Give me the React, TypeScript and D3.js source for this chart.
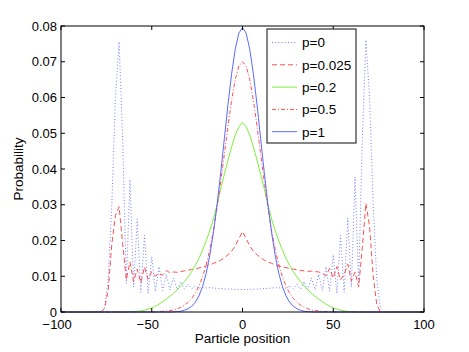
import React from 'react';
import * as d3 from 'd3';

const width = 469;
const height = 352;
const margin = { top: 26, right: 45, bottom: 40, left: 61 };
const font = '"Liberation Sans", Arial, Helvetica, sans-serif';

// particle positions (even sites only), zero outside +-80
const positions = [-100, ...d3.range(-80, 81, 2), 100];

const xTicks = [-100, -50, 0, 50, 100];
const yTicks = [0, 0.01, 0.02, 0.03, 0.04, 0.05, 0.06, 0.07, 0.08];

// rows: -100 | -80..-62 | -60..-42 | -40..-22 | -20..-2 | 0 | 2..20 | 22..40 | 42..60 | 62..80 | 100
const p0 = [
  0,
  0, 0, 0.0012, 0.009, 0.03, 0.06, 0.0756, 0.048, 0.008, 0.037,
  0.007, 0.026, 0.0055, 0.0215, 0.0052, 0.0155, 0.0058, 0.0127, 0.006, 0.0105,
  0.0062, 0.0095, 0.0063, 0.0085, 0.0064, 0.0078, 0.0065, 0.0073, 0.0066, 0.007,
  0.0067, 0.0068, 0.0067, 0.0066, 0.0066, 0.0065, 0.0064, 0.0064, 0.0063, 0.0063,
  0.0063,
  0.0063, 0.0063, 0.0064, 0.0064, 0.0065, 0.0066, 0.0066, 0.0067, 0.0068, 0.0067,
  0.007, 0.0066, 0.0073, 0.0065, 0.0078, 0.0064, 0.0085, 0.0063, 0.0095, 0.0062,
  0.0105, 0.006, 0.0127, 0.0058, 0.016, 0.0052, 0.0215, 0.0055, 0.0263, 0.007,
  0.0378, 0.008, 0.048, 0.0761, 0.06, 0.03, 0.009, 0.0012, 0, 0,
  0,
];

const p0025 = [
  0,
  0, 0, 0.001, 0.006, 0.019, 0.027, 0.0295, 0.019, 0.009, 0.014,
  0.0085, 0.012, 0.0082, 0.0126, 0.0092, 0.0113, 0.01, 0.0108, 0.0103, 0.0116,
  0.011, 0.0112, 0.0111, 0.0113, 0.0115, 0.0117, 0.0119, 0.0121, 0.0123, 0.0126,
  0.0129, 0.0132, 0.0136, 0.014, 0.0145, 0.0152, 0.016, 0.017, 0.0185, 0.0205,
  0.0225,
  0.0205, 0.0185, 0.017, 0.016, 0.0152, 0.0145, 0.014, 0.0136, 0.0132, 0.0129,
  0.0126, 0.0124, 0.0122, 0.012, 0.0118, 0.0116, 0.0115, 0.0114, 0.0114, 0.0113,
  0.0112, 0.0108, 0.0101, 0.0122, 0.0095, 0.0127, 0.009, 0.0105, 0.0134, 0.0087,
  0.0112, 0.007, 0.018, 0.0304, 0.024, 0.01, 0.002, 0, 0, 0,
  0,
];

const p02 = [
  0,
  0, 0, 0, 0, 0, 0, 0, 0, 0, 0.00005,
  0.0001, 0.0002, 0.0003, 0.0005, 0.0008, 0.0011, 0.0016, 0.0022, 0.0029, 0.0036,
  0.0044, 0.0052, 0.0062, 0.0073, 0.0085, 0.0098, 0.0113, 0.013, 0.015, 0.0173,
  0.0199, 0.0228, 0.026, 0.03, 0.0345, 0.0385, 0.0425, 0.0462, 0.0495, 0.0518,
  0.053,
  0.0518, 0.0495, 0.0462, 0.0425, 0.0385, 0.0345, 0.03, 0.026, 0.0228, 0.0199,
  0.0173, 0.015, 0.013, 0.0113, 0.0098, 0.0085, 0.0073, 0.0062, 0.0052, 0.0044,
  0.0036, 0.0029, 0.0022, 0.0016, 0.0011, 0.0008, 0.0005, 0.0003, 0.0002, 0.0001,
  0.00005, 0, 0, 0, 0, 0, 0, 0, 0, 0,
  0,
];

const p05 = [
  0,
  0, 0, 0, 0, 0, 0, 0, 0, 0, 0,
  0, 0, 0, 0, 0, 0, 0.00005, 0.0001, 0.0002, 0.0003,
  0.0004, 0.0006, 0.0009, 0.0013, 0.0019, 0.0027, 0.0038, 0.0052, 0.0072, 0.0098,
  0.0132, 0.0175, 0.0228, 0.0292, 0.0364, 0.0442, 0.052, 0.0592, 0.065, 0.0688,
  0.07,
  0.0688, 0.065, 0.0592, 0.052, 0.0442, 0.0364, 0.0292, 0.0228, 0.0175, 0.0132,
  0.0098, 0.0072, 0.0052, 0.0038, 0.0027, 0.0019, 0.0013, 0.0009, 0.0006, 0.0004,
  0.0003, 0.0002, 0.0001, 0.00005, 0, 0, 0, 0, 0, 0,
  0, 0, 0, 0, 0, 0, 0, 0, 0, 0,
  0,
];

const p1 = [
  0,
  0, 0, 0, 0, 0, 0, 0, 0, 0, 0,
  0, 0, 0, 0, 0, 0, 0, 0, 0, 0,
  0, 0.00005, 0.0001, 0.0002, 0.0005, 0.0009, 0.0016, 0.0027, 0.0045, 0.0071,
  0.0108, 0.0159, 0.0223, 0.0301, 0.039, 0.0485, 0.058, 0.0666, 0.0735, 0.078,
  0.0796,
  0.078, 0.0735, 0.0666, 0.058, 0.0485, 0.039, 0.0301, 0.0223, 0.0159, 0.0108,
  0.0071, 0.0045, 0.0027, 0.0016, 0.0009, 0.0005, 0.0002, 0.0001, 0.00005, 0,
  0, 0, 0, 0, 0, 0, 0, 0, 0, 0,
  0, 0, 0, 0, 0, 0, 0, 0, 0, 0,
  0,
];

const seriesNames = ['p=0', 'p=0.025', 'p=0.2', 'p=0.5', 'p=1'];
const seriesValues = [p0, p0025, p02, p05, p1];
const seriesColors = ['#6470ff', '#ff4f4f', '#7eef3c', '#ff4f4f', '#5c6aff'];
const seriesDash = ['1,2.2', '5,3', 'none', '4,2,1,2', 'none'];
const seriesWidth = [0.9, 1, 1, 1, 1];

const App = () => {
  const x = d3.scaleLinear().domain([-100, 100]).range([margin.left, width - margin.right]);
  const y = d3.scaleLinear().domain([0, 0.08]).range([height - margin.bottom, margin.top]);
  const [x0, x1] = x.range();
  const [y0, y1] = y.range();
  const tick = 4;

  const line = d3.line<number>()
    .x((_, i) => x(positions[i]))
    .y(d => y(d));

  //legend layout
  const lg = { x: 267, y: 29, w: 89, h: 114, row: 22.3 };

  return (
    <svg width={width} height={height} style={{ position: 'absolute', left: 0, top: 0, background: '#fff' }}
      fontFamily={font}>
      <rect x={0} y={0} width={width} height={height} fill="#fff" />
      {seriesValues.map((vals, i) => (
        <path key={seriesNames[i]} d={line(vals) || ''} fill="none" stroke={seriesColors[i]}
          strokeWidth={seriesWidth[i]} strokeDasharray={seriesDash[i]} />
      ))}

      {/* box and inward ticks */}
      <rect x={x0} y={y1} width={x1 - x0} height={y0 - y1} fill="none" stroke="#000" strokeWidth={1} />
      {xTicks.map(t => (
        <g key={'xt' + t}>
          <line x1={x(t)} x2={x(t)} y1={y0} y2={y0 - tick} stroke="#000" />
          <line x1={x(t)} x2={x(t)} y1={y1} y2={y1 + tick} stroke="#000" />
          <text x={x(t)} y={328.5} fontSize={13} textAnchor="middle">{String(Math.abs(t))}</text>
          {t < 0 && (
            <text x={x(t) - String(Math.abs(t)).length * 3.62 - 0.3} y={328.5} fontSize={13} textAnchor="end">−</text>
          )}
        </g>
      ))}
      {yTicks.map(t => (
        <g key={'yt' + t}>
          <line x1={x0} x2={x0 + tick} y1={y(t)} y2={y(t)} stroke="#000" />
          <line x1={x1} x2={x1 - tick} y1={y(t)} y2={y(t)} stroke="#000" />
          <text x={57} y={y(t)} dy="0.36em" fontSize={13} textAnchor="end">{t === 0 ? '0' : t.toFixed(2)}</text>
        </g>
      ))}

      <text x={(x0 + x1) / 2} y={343} fontSize={13.5} textAnchor="middle">Particle position</text>
      <text transform={`translate(23, ${(y0 + y1) / 2}) rotate(-90)`} fontSize={13.5} textAnchor="middle">Probability</text>

      {/* legend */}
      <rect x={lg.x} y={lg.y} width={lg.w} height={lg.h} fill="#fff" stroke="#333" strokeWidth={1.2} />
      {seriesNames.map((name, i) => {
        const cy = lg.y + 13.5 + i * lg.row;
        return (
          <g key={'lg' + name}>
            <line x1={lg.x + 5} x2={lg.x + 30} y1={cy} y2={cy} stroke={seriesColors[i]}
              strokeWidth={seriesWidth[i]} strokeDasharray={seriesDash[i]} />
            <text x={lg.x + 35} y={cy} dy="0.36em" fontSize={13.5}>{name}</text>
          </g>
        );
      })}
    </svg>
  );
};

export default App;
